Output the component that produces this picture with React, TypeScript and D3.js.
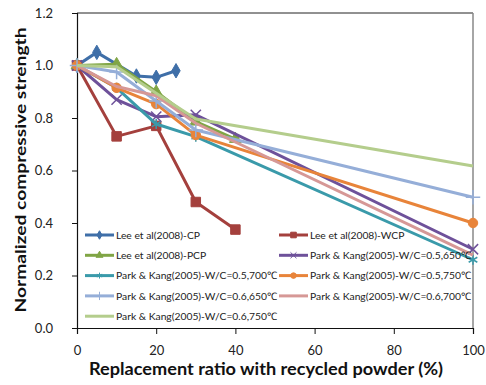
import React, { useEffect, useRef } from "react";
import * as d3 from "d3";

// replacement ratio (%) for each study
const cpX = [0, 5, 15, 20, 25];
const cpY = [1.0, 1.05, 0.96, 0.955, 0.98];
const wcpX = [0, 10, 20, 30, 40];
const wcpY = [1.0, 0.73, 0.77, 0.48, 0.375];
const pcpX = [0, 10, 20, 30, 40];
const pcpY = [1.0, 1.005, 0.9, 0.786, 0.72];
const parkX = [0, 10, 20, 30, 100];
const p05_650 = [1.0, 0.87, 0.805, 0.812, 0.3];
const p05_700 = [1.0, 0.915, 0.777, 0.729, 0.26];
const p05_750 = [1.0, 0.915, 0.853, 0.735, 0.4];
const p06_650 = [1.0, 0.975, 0.865, 0.754, 0.498];
const p06_700 = [1.0, 0.92, 0.885, 0.78, 0.278];
const p06_750 = [1.0, 0.995, 0.894, 0.796, 0.617];

const xTicks = [0, 20, 40, 60, 80, 100];
const yTicks = [0, 0.2, 0.4, 0.6, 0.8, 1.0, 1.2];

const series = [
  { name: "Lee et al(2008)-CP", xs: cpX, ys: cpY, color: "#3f6fa8", sym: d3.symbolDiamond, size: 60, fill: true },
  { name: "Lee et al(2008)-WCP", xs: wcpX, ys: wcpY, color: "#a4403d", sym: d3.symbolSquare, size: 90, fill: true },
  { name: "Lee et al(2008)-PCP", xs: pcpX, ys: pcpY, color: "#80a545", sym: d3.symbolTriangle, size: 60, fill: true },
  { name: "Park & Kang(2005)-W/C=0.5,650℃", xs: parkX, ys: p05_650, color: "#6e519a", sym: d3.symbolTimes, size: 70, fill: false },
  { name: "Park & Kang(2005)-W/C=0.5,700℃", xs: parkX, ys: p05_700, color: "#3a9aaa", sym: d3.symbolAsterisk, size: 70, fill: false },
  { name: "Park & Kang(2005)-W/C=0.5,750℃", xs: parkX, ys: p05_750, color: "#e8843a", sym: d3.symbolCircle, size: 70, fill: true },
  { name: "Park & Kang(2005)-W/C=0.6,650℃", xs: parkX, ys: p06_650, color: "#95aed8", sym: d3.symbolPlus, size: 70, fill: false },
  { name: "Park & Kang(2005)-W/C=0.6,700℃", xs: parkX, ys: p06_700, color: "#d69896", sym: null, size: 0, fill: true },
  { name: "Park & Kang(2005)-W/C=0.6,750℃", xs: parkX, ys: p06_750, color: "#b4cd8c", sym: null, size: 0, fill: true },
];

export default function App() {
  const ref = useRef<SVGSVGElement>(null);

  useEffect(() => {
    const svg = d3.select(ref.current);
    svg.selectAll("*").remove();

    const x = d3.scaleLinear().domain([0, 100]).range([77, 473]);
    const y = d3.scaleLinear().domain([0, 1.2]).range([328, 13]);
    const font = "Lato, 'Open Sans', sans-serif";

    // frame
    svg.append("line").attr("x1", x(0)).attr("x2", x(100)).attr("y1", y(1.2)).attr("y2", y(1.2))
      .attr("stroke", "#222").attr("stroke-width", 1);
    svg.append("line").attr("x1", x(100)).attr("x2", x(100)).attr("y1", y(1.2)).attr("y2", y(0))
      .attr("stroke", "#888").attr("stroke-width", 1.5);

    // axes
    const yAxis = svg.append("g").attr("transform", `translate(${x(0)},0)`)
      .call(d3.axisLeft(y).tickValues(yTicks).tickFormat(d3.format(".1f")).tickSize(5).tickPadding(19));
    const xAxis = svg.append("g").attr("transform", `translate(0,${y(0)})`)
      .call(d3.axisBottom(x).tickValues(xTicks).tickSize(6).tickPadding(12));
    [yAxis, xAxis].forEach(a => {
      a.select(".domain").attr("stroke", "#111").attr("stroke-width", 1.2);
      a.selectAll(".tick line").attr("stroke", "#111");
      a.selectAll("text").attr("font-family", font).attr("font-size", 13).attr("fill", "#222");
    });

    // lines + markers
    series.forEach(s => {
      const pts = s.xs.map((v, i) => [x(v), y(s.ys[i])] as [number, number]);
      svg.append("path").attr("d", d3.line()(pts)).attr("fill", "none")
        .attr("stroke", s.color).attr("stroke-width", 3).attr("stroke-linejoin", "round");
      if (s.sym) {
        const sym = d3.symbol(s.sym, s.size);
        pts.forEach(p => {
          svg.append("path").attr("d", sym()).attr("transform", `translate(${p[0]},${p[1]})`)
            .attr("fill", s.fill ? s.color : "none").attr("stroke", s.color)
            .attr("stroke-width", s.fill ? 1 : 1.5);
        });
      }
    });

    // legend
    const legend = svg.append("g");
    series.forEach((s, i) => {
      const col = i % 2;
      const row = Math.floor(i / 2);
      const lx = col === 0 ? 85 : 279;
      const ly = 235 + row * 20.3;
      const g = legend.append("g").attr("transform", `translate(${lx},${ly})`);
      g.append("line").attr("x1", 0).attr("x2", 29).attr("y1", 0).attr("y2", 0)
        .attr("stroke", s.color).attr("stroke-width", 3);
      if (s.sym) {
        g.append("path").attr("d", d3.symbol(s.sym, s.size * 0.35)()).attr("transform", "translate(14.5,0)")
          .attr("fill", s.fill ? s.color : "none").attr("stroke", s.color).attr("stroke-width", 1);
      }
      g.append("text").attr("x", 31).attr("y", 0).attr("dy", "0.35em")
        .attr("font-family", font).attr("font-size", 10.3).attr("fill", "#222").text(s.name);
    });

    // axis titles
    svg.append("text").attr("x", 266).attr("y", 375)
      .attr("text-anchor", "middle").attr("font-family", font).attr("font-weight", "bold")
      .attr("font-size", 16.5).attr("fill", "#111")
      .attr("textLength", 354).attr("lengthAdjust", "spacingAndGlyphs")
      .text("Replacement ratio with recycled powder (%)");
    svg.append("text").attr("transform", `translate(26,170) rotate(-90)`)
      .attr("text-anchor", "middle").attr("font-family", font).attr("font-weight", "bold")
      .attr("font-size", 16).attr("fill", "#111")
      .attr("textLength", 285).attr("lengthAdjust", "spacingAndGlyphs")
      .text("Normalized compressive strength");
  }, []);

  return (
    <svg ref={ref} width={486} height={385}
      style={{ position: "absolute", left: 0, top: 0, background: "#fff" }} />
  );
}
